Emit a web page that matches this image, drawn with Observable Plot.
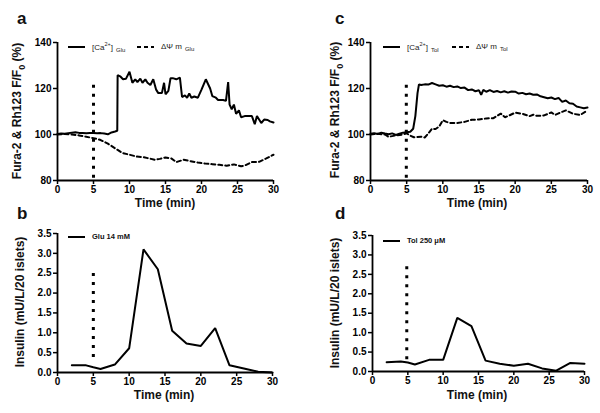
<!DOCTYPE html>
<html><head><meta charset="utf-8">
<script src="https://cdn.jsdelivr.net/npm/d3@7"></script>
<script src="https://cdn.jsdelivr.net/npm/@observablehq/plot@0.6"></script>
<style>
body{margin:0;background:#fff;font-family:"Liberation Sans",Arial,sans-serif;}
#fig{position:relative;width:600px;height:413px;overflow:hidden;background:#fff}
.panel{position:absolute}
.lbl{position:absolute;font-weight:bold;font-size:12px;white-space:nowrap;color:#111;line-height:1}
.letter{position:absolute;font-weight:bold;font-size:17px;line-height:1;color:#111}
.ylab{transform:translate(-50%,-50%) rotate(-90deg)}
.xlab{transform:translate(-50%,-50%)}
.leg{position:absolute;height:10px;display:flex;align-items:center;white-space:nowrap;font-size:8px;color:#222}
.leg svg{margin-right:7px;flex:none}
.leg span{line-height:1}
.leg sub{font-size:6px;vertical-align:-2px;margin-left:3px}
.leg sup{font-size:5.5px;vertical-align:4px}
.leg.b{font-weight:bold;font-size:7.5px;color:#111}
</style>
</head><body>
<div id="fig"></div>
<script>
// ---------------- data ----------------
const xTicks = [0, 5, 10, 15, 20, 25, 30];
const fluoTicks = [80, 100, 120, 140];
const insTicks = [0, 0.5, 1, 1.5, 2, 2.5, 3, 3.5];

// panel a: [time (min), %]
const caGlu = [[0,100.2],[0.5,100.4],[1,100.3],[1.5,100.6],[2,100.8],[2.5,101],[3,100.7],[3.5,100.6],[4,100.5],[4.5,100.6],[5,100.6],[5.5,100.5],[6,100.6],[6.5,100.4],[7,100.1],[7.5,100.9],[8,101.3],[8.3,101.6],[8.35,125.8],[8.7,125.3],[9.1,124],[9.5,124.2],[10,127.3],[10.4,122.5],[10.8,124],[11.1,122.8],[11.5,124.3],[11.8,122.5],[12.2,124],[12.5,122.5],[12.9,121.5],[13.3,124],[13.7,119.5],[14,118],[14.5,118],[14.8,122.5],[15,117.5],[15.4,119],[15.7,124.5],[16,124.5],[16.5,124],[17,124.7],[17.3,116.3],[17.7,117],[18,116],[18.3,117.8],[18.6,116],[19,116.5],[19.5,116],[20,119.5],[20.6,124],[21.2,120],[21.5,116.7],[22,116],[22.3,115],[23,115],[23.4,114.6],[23.7,122.8],[23.9,113],[24.2,111],[24.5,113],[24.8,109],[25.2,110.5],[25.5,107.5],[26,108],[26.5,108],[27,108],[27.4,104.5],[27.7,108],[28,106.5],[28.3,105],[28.7,106.5],[29.2,106.3],[29.5,105.7],[30,105.2]];
const psiGlu = [[0,100],[1,100.2],[2,100],[3,99.6],[4,99],[5,98.4],[6,97.6],[7,96],[8,94],[9,92],[10,91.2],[11,90.4],[12,90.1],[13,89.4],[13.5,89],[14.2,89.4],[15,90],[15.8,89.6],[16.5,88],[17.5,89],[18.5,88.4],[19.5,87.8],[20.5,87.4],[21.5,87.1],[22.5,86.8],[23.5,86.4],[24.5,87],[25.5,86.2],[26,86.5],[27,88],[28,88.1],[29,89.6],[30,91.2]];

// panel c
const caTol = [[0,100.3],[0.5,100.6],[1,100.2],[1.5,100.8],[2,100.4],[2.5,100.1],[3,100.5],[3.5,99.8],[4,100.3],[4.5,100.8],[5,101],[5.5,101.2],[5.9,102.5],[6.2,108],[6.5,118],[6.7,121.8],[7,121.5],[7.5,121.8],[8,121.7],[8.5,122.4],[9,121.8],[9.5,121.2],[10,121.4],[10.5,120.8],[11,121.2],[11.5,120.6],[12,120.9],[12.5,120.2],[13,120.4],[13.5,119.3],[14,119.6],[14.5,118.8],[15,119.2],[15.3,117.2],[15.6,119.4],[16,118.6],[16.5,119.3],[17,118.5],[17.5,118.9],[18,118.3],[18.5,118.8],[19,118.2],[19.5,118.7],[20,118.6],[20.5,117.8],[21,118.1],[21.5,117.5],[22,117.8],[22.5,117.3],[23,117.4],[23.5,116.6],[24,116.2],[24.5,115.8],[25,116.1],[25.5,115.4],[26,115.9],[26.5,114.2],[27,114.8],[27.5,113.6],[28,113.4],[28.5,112.2],[29,111.8],[29.5,111.4],[30,111.7]];
const psiTol = [[0,100],[1,100.3],[2,100],[2.5,99],[3,99.3],[3.5,99.6],[4.5,100],[5,100.5],[5.5,99.5],[6,98.8],[7,99],[7.5,98.7],[8,100.5],[8.5,102.5],[9,102.4],[9.5,103.5],[10,106.2],[10.5,105.5],[11,105],[12,105],[13,105.5],[14,106.4],[15,106.5],[16,107],[17,107.1],[18,109.1],[18.6,107.5],[19.2,108.3],[20,109.5],[21,109],[22,108],[22.5,108.6],[23,108.1],[24,108.3],[25,109.6],[25.5,108.5],[26,109.2],[27,110.5],[28,109],[29,108.5],[30,110.5]];

// panels b, d: insulin (mU/L/20 islets)
const insGlu = [[2,0.18],[4,0.18],[5,0.13],[6,0.09],[8,0.2],[10,0.61],[12,3.1],[14,2.6],[16,1.05],[18,0.73],[20,0.67],[22,1.12],[24,0.18],[26,0.1],[28,0.02],[30,0]];
const insTol = [[2,0.24],[4,0.26],[5,0.23],[6,0.18],[8,0.3],[10,0.3],[12,1.38],[14,1.17],[16,0.28],[18,0.2],[20,0.15],[22,0.2],[24,0.08],[26,0.02],[28,0.22],[30,0.2]];

// stimulus markers: [time, y from, y to]
const stimA = [5, 81, 122.5];
const stimC = [4.95, 81, 122.5];
const stimB = [5, 0.38, 2.5];
const stimD = [4.85, 0.3, 2.75];

// ---------------- drawing ----------------
const fig = document.getElementById("fig");
const toObj = arr => arr.map(([t, v]) => ({t, v}));

function panel(o) {
  const marks = [
    Plot.ruleX([0], {stroke: "#000", strokeWidth: 1.8}),
    Plot.ruleY([o.ydomain[0]], {stroke: "#000", strokeWidth: 1.8}),
    Plot.axisX({ticks: xTicks, tickSize: 4, tickPadding: 1, strokeWidth: 1.5, label: null}),
    Plot.axisY({ticks: o.yticks, tickSize: 4, tickPadding: 2, strokeWidth: 1.5, label: null, tickFormat: o.fmt}),
    Plot.ruleX([o.stim], {x: d => d[0], y1: d => d[1], y2: d => d[2], stroke: "#000", strokeWidth: 3, strokeDasharray: "3,6"})
  ];
  for (const s of o.series) {
    marks.push(Plot.line(toObj(s.data), {x: "t", y: "v", stroke: "#000", strokeWidth: 2, strokeDasharray: s.dash || null, strokeLinejoin: "miter"}));
  }
  const svg = Plot.plot({
    width: o.width, height: o.height,
    marginLeft: o.m[0], marginRight: o.m[1], marginTop: o.m[2], marginBottom: o.m[3],
    x: {domain: [0, 30]},
    y: {domain: o.ydomain},
    style: {fontFamily: "'Liberation Sans', Arial, sans-serif", fontSize: "10px", fontWeight: "bold", color: "#000", background: "transparent", overflow: "visible"},
    marks
  });
  svg.classList.add("panel");
  svg.style.left = o.left + "px";
  svg.style.top = o.top + "px";
  fig.appendChild(svg);
}

panel({left: 0, top: 0, width: 300, height: 210, m: [57, 27, 42, 30], ydomain: [80, 140], yticks: fluoTicks, fmt: d3.format("d"),
  stim: stimA, series: [{data: caGlu}, {data: psiGlu, dash: "4,3"}]});
panel({left: 300, top: 0, width: 300, height: 210, m: [70, 13, 42, 30], ydomain: [80, 140], yticks: fluoTicks, fmt: d3.format("d"),
  stim: stimC, series: [{data: caTol}, {data: psiTol, dash: "4,3"}]});
panel({left: 0, top: 200, width: 300, height: 213, m: [57, 28, 33, 41], ydomain: [0, 3.5], yticks: insTicks, fmt: d3.format(".1f"),
  stim: stimB, series: [{data: insGlu}]});
panel({left: 300, top: 200, width: 300, height: 213, m: [72, 16, 35, 42], ydomain: [0, 3.5], yticks: insTicks, fmt: d3.format(".1f"),
  stim: stimD, series: [{data: insTol}]});

// ---------------- annotations ----------------
function add(cls, html, x, y) {
  const d = document.createElement("div");
  d.className = cls; d.innerHTML = html;
  d.style.left = x + "px"; d.style.top = y + "px";
  fig.appendChild(d);
}
const swatch = dash => `<svg width="17" height="4"><line x1="0" y1="2" x2="17" y2="2" stroke="#000" stroke-width="2" ${dash ? 'stroke-dasharray="4,3"' : ''}/></svg>`;
const item = (dash, html) => swatch(dash) + `<span>${html}</span>`;

add("letter", "a", 17, 10);
add("letter", "c", 335, 10);
add("letter", "b", 17, 205);
add("letter", "d", 335, 205);

const fluoLabel = "Fura-2 &amp; Rh123 F/F<sub style='font-size:9px'>0</sub> (%)";
add("lbl ylab", fluoLabel, 19, 111);
add("lbl ylab", fluoLabel, 337, 110);
add("lbl ylab", "Insulin (mU/L/20 islets)", 20, 302);
add("lbl ylab", "Insulin (mU/L/20 islets)", 335, 303);
add("lbl xlab", "Time (min)", 165, 203);
add("lbl xlab", "Time (min)", 477, 203);
add("lbl xlab", "Time (min)", 164, 395);
add("lbl xlab", "Time (min)", 477, 395);

add("leg", item(false, "[Ca<sup>2+</sup>]<sub>Glu</sub>"), 68, 42);
add("leg", item(true, "ΔΨ m<sub>Glu</sub>"), 137, 42);
add("leg", item(false, "[Ca<sup>2+</sup>]<sub>Tol</sub>"), 383, 42);
add("leg", item(true, "ΔΨ m<sub>Tol</sub>"), 452, 42);
add("leg b", item(false, "Glu 14 mM"), 68, 232);
add("leg b", item(false, "Tol 250 μM"), 383, 236);
</script>
</body></html>
